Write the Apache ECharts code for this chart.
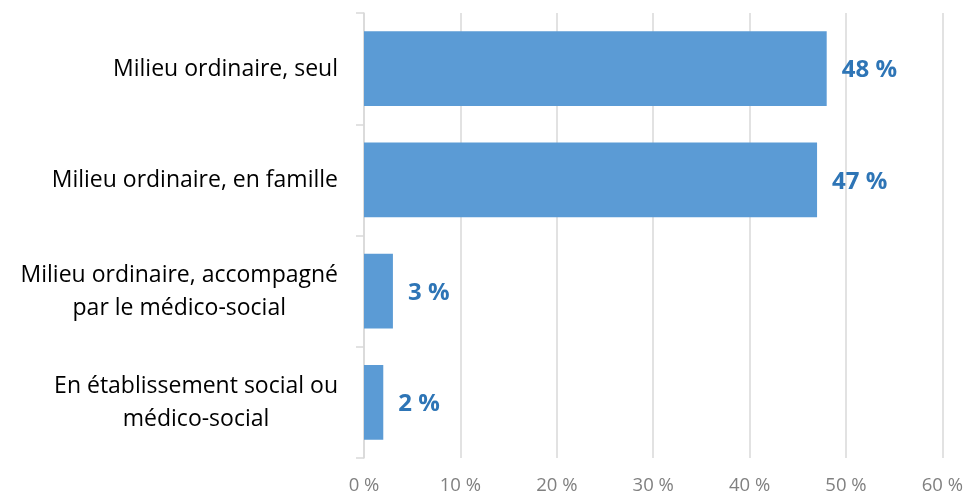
<!DOCTYPE html>
<html>
<head>
<meta charset="utf-8">
<script src="https://cdn.jsdelivr.net/npm/echarts@6/dist/echarts.min.js"></script>
<style>
  html, body { margin: 0; padding: 0; background: #fff; }
  #chart { width: 966px; height: 497px; }
</style>
</head>
<body>
<div id="chart"></div>
<script>
// categories from top to bottom
var categories = [
  'Milieu ordinaire, seul',
  'Milieu ordinaire, en famille',
  'Milieu ordinaire, accompagné\npar le médico-social',
  'En établissement social ou\nmédico-social'
]
var values = [48, 47, 3, 2]
var xTicks = [0, 10, 20, 30, 40, 50, 60]

var font = '"Open Sans", sans-serif'
var myChart = echarts.init(document.getElementById('chart'))
myChart.setOption({
  animation: false,
  grid: { left: 364, right: 22, top: 13, bottom: 39, containLabel: false },
  xAxis: {
    type: 'value',
    min: xTicks[0],
    max: xTicks[xTicks.length - 1],
    interval: 10,
    axisLine: { show: false },
    axisTick: { show: false },
    splitLine: { lineStyle: { color: '#D9D9D9', width: 1.5 } },
    axisLabel: {
      formatter: '{value} %',
      color: '#808080',
      fontSize: 18.5,
      fontFamily: font,
      margin: 18
    }
  },
  yAxis: {
    type: 'category',
    inverse: true,
    data: categories,
    axisLine: { lineStyle: { color: '#D9D9D9', width: 1.5 } },
    axisTick: { show: true, length: 8, lineStyle: { color: '#D9D9D9', width: 1.5 } },
    axisLabel: {
      margin: 26,
      color: '#000',
      fontSize: 23,
      fontFamily: font,
      lineHeight: 33,
      formatter: function (v) {
        return v.split('\n').map(function (l) { return '{c|' + l + '}' }).join('\n')
      },
      rich: {
        c: { align: 'center', fontSize: 23, fontFamily: font, color: '#000', lineHeight: 33, padding: [2, 0, 0, 0] }
      }
    }
  },
  series: [{
    type: 'bar',
    data: values,
    barCategoryGap: '33%',
    itemStyle: { color: '#5B9BD5' },
    label: {
      show: true,
      position: 'right',
      distance: 15,
      offset: [0, 2],
      formatter: '{c} %',
      color: '#2E75B6',
      fontWeight: 'bold',
      fontSize: 24,
      fontFamily: font
    }
  }]
})
</script>
</body>
</html>
